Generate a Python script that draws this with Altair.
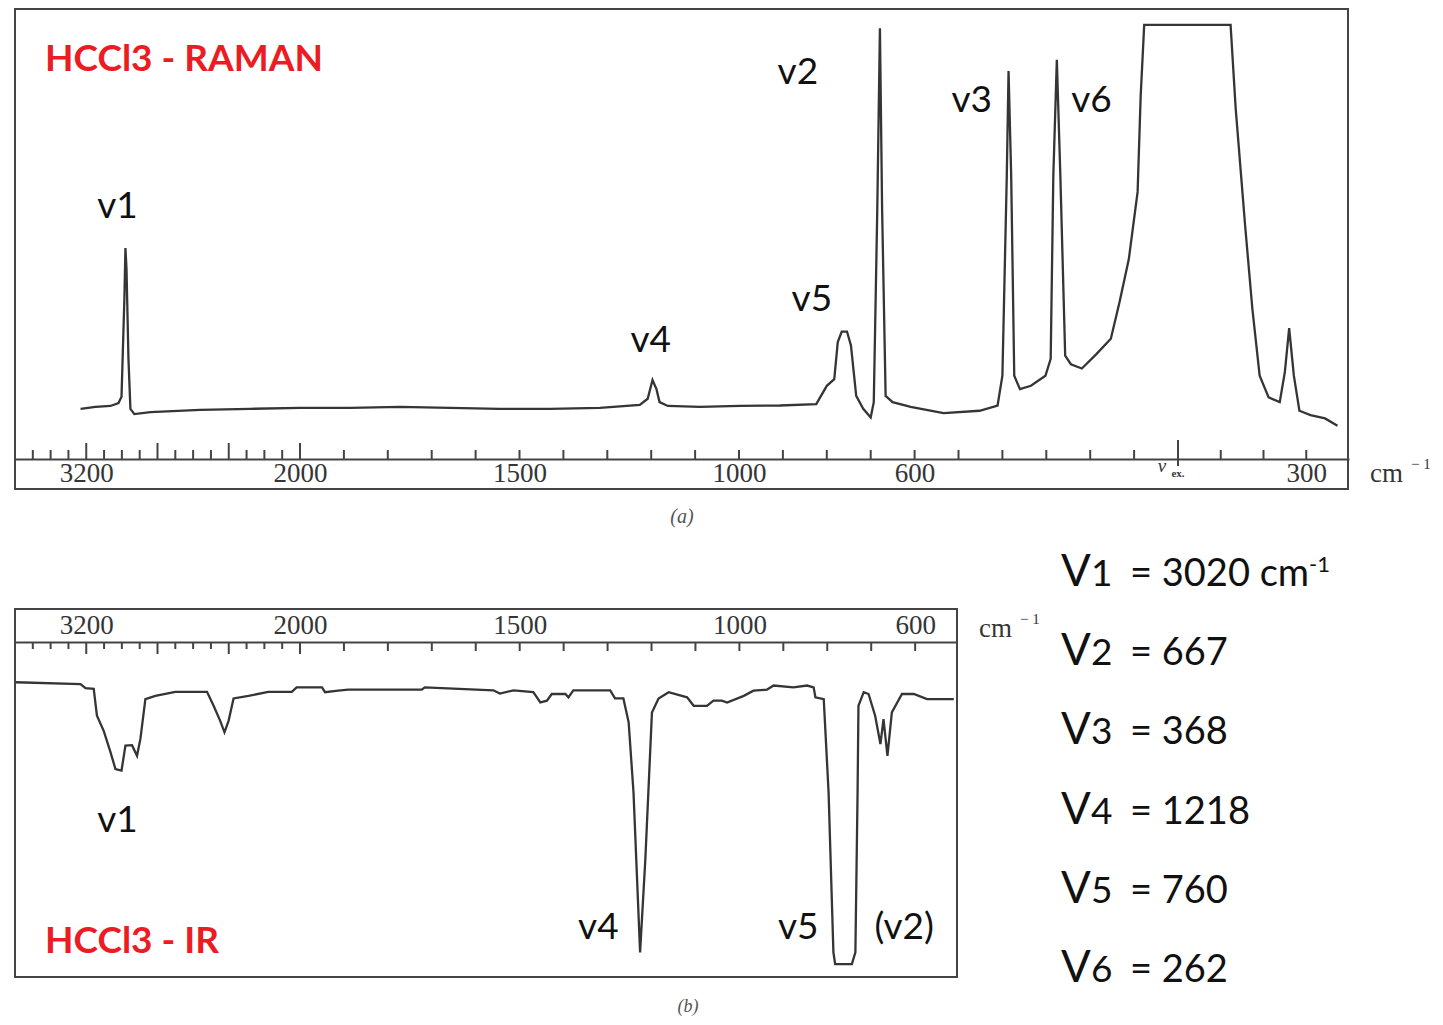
import altair as alt
import pandas as pd

# ---------------- data ----------------
# (a) Raman spectrum: Raman shift in cm-1 (negative = anti-Stokes side of the exciting line), intensity (arb. units)
raman_shift = [3232, 3148, 3064, 3019, 3002, 2986, 2980, 2974, 2963, 2952,
               2930, 2840, 2560, 2280, 2000, 1886, 1772, 1658, 1545, 1431,
               1317, 1226, 1208, 1197, 1188, 1181, 1162, 1089, 998, 907,
               824, 800, 783, 775, 766, 754, 745, 733, 717, 700,
               693, 685, 679, 674, 666, 650, 609, 534, 452, 411,
               400, 390, 386, 380, 373, 360, 335, 302, 290, 284,
               276, 268, 257, 244, 219, 186, 153, 133, 112, 92,
               85, 77, -123, -135, -157, -174, -191, -212, -238, -250,
               -260, -271, -284, -310, -344, -373]
raman_int = [16.7, 17.1, 17.3, 17.9, 19.2, 39.6, 50.2, 45.8, 27.1, 16.7,
             15.6, 16.0, 16.5, 16.7, 16.9, 16.9, 17.1, 16.9, 16.7, 16.7,
             16.9, 17.5, 18.8, 22.7, 20.8, 18.1, 17.3, 17.1, 17.3, 17.4,
             17.7, 21.5, 22.9, 30.6, 32.8, 32.8, 29.9, 19.4, 16.7, 14.9,
             18.1, 58.3, 96.0, 58.3, 19.4, 18.1, 17.1, 15.8, 16.3, 17.4,
             23.6, 65.3, 87.1, 65.3, 23.6, 20.8, 21.5, 23.6, 27.1, 65.3,
             89.4, 65.3, 27.8, 26.0, 25.1, 28.1, 31.3, 39.0, 47.9, 61.9,
             81.9, 96.7, 96.7, 79.2, 54.9, 37.5, 23.6, 19.1, 18.1, 24.4,
             33.5, 23.6, 16.3, 15.4, 14.7, 13.2]

# (b) IR spectrum: wavenumber in cm-1, transmittance (arb. %)
ir_wn = [3596, 3232, 3204, 3158, 3140, 3102, 3064, 3036, 3002, 2980,
         2943, 2915, 2896, 2868, 2812, 2700, 2522, 2485, 2448, 2424,
         2401, 2373, 2289, 2178, 2046, 2019, 1950, 1943, 1913, 1890,
         1723, 1716, 1560, 1545, 1514, 1469, 1453, 1438, 1427, 1396,
         1389, 1378, 1294, 1283, 1264, 1252, 1241, 1226, 1214, 1199,
         1184, 1161, 1119, 1104, 1074, 1059, 1040, 1028, 990, 968,
         937, 922, 877, 846, 831, 827, 808, 797, 786, 782,
         744, 736, 731, 729, 717, 706, 691, 679, 672, 663,
         653, 630, 603, 573, 512]
ir_T = [80.1, 79.6, 78.5, 78.3, 71.0, 66.9, 61.1, 56.5, 56.1, 62.9,
        63.0, 60.1, 64.7, 75.5, 76.4, 77.5, 77.5, 73.7, 69.6, 66.5,
        69.6, 75.7, 76.4, 77.5, 77.5, 78.7, 78.7, 77.4, 77.8, 78.1,
        78.1, 78.7, 77.9, 77.0, 77.9, 77.4, 74.6, 75.1, 76.9, 76.9,
        76.0, 77.9, 77.9, 75.7, 75.7, 69.2, 50.2, 6.7, 32.1, 71.9,
        75.7, 77.4, 76.0, 73.7, 73.7, 75.1, 75.1, 74.6, 76.4, 77.8,
        78.1, 79.2, 78.7, 79.2, 78.7, 76.0, 75.5, 50.2, 6.7, 3.5,
        3.5, 6.7, 50.2, 73.7, 77.4, 76.9, 71.0, 63.3, 70.1, 60.1,
        71.9, 76.9, 76.9, 75.5, 75.5]

# peak labels
raman_label_text = ["v1", "v4", "v5", "v2", "v3", "v6"]
raman_label_x = [3025, 1201, 834, 866, 470, 197]
raman_label_y = [58.8, 30.9, 39.4, 86.7, 80.9, 80.9]
ir_label_text = ["v1", "v4", "v5", "(v2)"]
ir_label_x = [3025, 1321, 866, 625]
ir_label_y = [42.4, 13.4, 13.4, 13.4]

# axis ticks / labels
major_ticks = [3200, 2800, 2400, 2000]
minor_ticks_high = [3500, 3400, 3300, 3100, 3000, 2900, 2700, 2600, 2500, 2300, 2200, 2100]
raman_ticks_low = [1900, 1800, 1700, 1600, 1500, 1400, 1300, 1200, 1100, 1000,
                   900, 800, 700, 600, 500, 400, 300, 200, 100, -100, -200, -300]
ir_ticks_low = [1900, 1800, 1700, 1600, 1500, 1400, 1300, 1200, 1100, 1000,
                900, 800, 700, 600]
raman_axis_labels = [3200, 2000, 1500, 1000, 600, -300]
ir_axis_labels = [3200, 2000, 1500, 1000, 600]

# fundamentals list
mode_num = ["1", "2", "3", "4", "5", "6"]
mode_val = ["= 3020 cm", "= 667", "= 368", "= 1218", "= 760", "= 262"]

# ---------------- styles ----------------
INK = "#353535"
SERIF = "Liberation Serif"
SANS = "Lato"
RED = "#ec1c24"

# ---------------- (a) Raman panel ----------------
top_scale = alt.Scale(domain=[3600, 2000, 0, -400], range=[0, 285, 1163, 1334], nice=False, zero=False)
top_axis = alt.Axis(values=raman_axis_labels, labelExpr="format(abs(datum.value), 'd')",
                    orient="bottom", offset=-30, ticks=False, tickSize=0,
                    domainColor="#444", domainWidth=2, grid=False, title=None,
                    labelFont=SERIF, labelFontSize=27, labelColor=INK,
                    labelBaseline="middle", labelPadding=14,
                    labelFlush=False, labelOverlap=False)
X_top = alt.X("wn:Q", scale=top_scale, axis=top_axis)
Y_top = alt.Y("I:Q", scale=alt.Scale(domain=[0, 100], nice=False, zero=False), axis=None)

raman_df = pd.DataFrame({"wn": raman_shift, "I": raman_int, "i": list(range(len(raman_shift)))})
line_top = alt.Chart(raman_df).mark_line(color=INK, strokeWidth=2.3).encode(x=X_top, y=Y_top, order="i:Q")

maj_top = alt.Chart(pd.DataFrame({"wn": major_ticks})).mark_rule(color="#444", strokeWidth=2).encode(
    x=X_top, y=alt.value(434), y2=alt.value(450))
min_top = alt.Chart(pd.DataFrame({"wn": minor_ticks_high + raman_ticks_low})).mark_rule(color="#444", strokeWidth=2).encode(
    x=X_top, y=alt.value(441), y2=alt.value(450))
vex_top = alt.Chart(pd.DataFrame({"wn": [0]})).mark_rule(color="#444", strokeWidth=2).encode(
    x=X_top, y=alt.value(431), y2=alt.value(457))

lab_top = alt.Chart(pd.DataFrame({"wn": raman_label_x, "I": raman_label_y, "t": raman_label_text})).mark_text(
    font=SANS, fontSize=37, color="#111", align="center", baseline="middle").encode(x=X_top, y=Y_top, text="t:N")

def txt(s, x, y, **kw):
    return alt.Chart(pd.DataFrame({"t": [s]})).mark_text(**kw).encode(x=alt.value(x), y=alt.value(y), text="t:N")

title_top = txt("HCCl3 - RAMAN", 30, 51, font=SANS, fontWeight="bold", fontSize=37, color=RED,
                align="left", baseline="middle")
cm_top = txt("cm", 1355, 465, font=SERIF, fontSize=27, color=INK, align="left", baseline="middle")
cm_sup_top = txt("\u2212 1", 1396, 455, font=SERIF, fontSize=15, color=INK, align="left", baseline="middle")
a_top = txt("(a)", 667, 508, font=SERIF, fontSize=20, fontStyle="italic", color="#555", align="center", baseline="middle")
vex_nu = txt("\u03bd", 1147, 457, font=SERIF, fontSize=19, fontStyle="italic", color=INK, align="center", baseline="middle")
vex_ex = txt("ex.", 1163, 465, font=SERIF, fontSize=11, fontWeight="bold", color=INK, align="center", baseline="middle")

top = alt.layer(line_top, maj_top, min_top, vex_top, lab_top, title_top, cm_top, cm_sup_top,
                a_top, vex_nu, vex_ex).properties(width=1333, height=480)

# ---------------- (b) IR panel ----------------
bot_scale = alt.Scale(domain=[3600, 2000, 507], range=[0, 285, 941], nice=False, zero=False)
bot_axis = alt.Axis(values=ir_axis_labels, format="d", orient="top", offset=-33, ticks=False, tickSize=0,
                    domainColor="#444", domainWidth=2, grid=False, title=None,
                    labelFont=SERIF, labelFontSize=27, labelColor=INK,
                    labelBaseline="middle", labelPadding=17,
                    labelFlush=False, labelOverlap=False)
X_bot = alt.X("wn:Q", scale=bot_scale, axis=bot_axis)
Y_bot = alt.Y("T:Q", scale=alt.Scale(domain=[0, 100], nice=False, zero=False), axis=None)

ir_df = pd.DataFrame({"wn": ir_wn, "T": ir_T, "i": list(range(len(ir_wn)))})
line_bot = alt.Chart(ir_df).mark_line(color=INK, strokeWidth=2.3).encode(x=X_bot, y=Y_bot, order="i:Q")

maj_bot = alt.Chart(pd.DataFrame({"wn": major_ticks})).mark_rule(color="#444", strokeWidth=2).encode(
    x=X_bot, y=alt.value(33), y2=alt.value(45))
min_bot = alt.Chart(pd.DataFrame({"wn": minor_ticks_high})).mark_rule(color="#444", strokeWidth=2).encode(
    x=X_bot, y=alt.value(33), y2=alt.value(40))
low_bot = alt.Chart(pd.DataFrame({"wn": ir_ticks_low})).mark_rule(color="#444", strokeWidth=2).encode(
    x=X_bot, y=alt.value(33), y2=alt.value(42))

lab_bot = alt.Chart(pd.DataFrame({"wn": ir_label_x, "T": ir_label_y, "t": ir_label_text})).mark_text(
    font=SANS, fontSize=37, color="#111", align="center", baseline="middle").encode(x=X_bot, y=Y_bot, text="t:N")

title_bot = txt("HCCl3 - IR", 30, 333, font=SANS, fontWeight="bold", fontSize=37, color=RED,
                align="left", baseline="middle")
cm_bot = txt("cm", 964, 20, font=SERIF, fontSize=27, color=INK, align="left", baseline="middle")
cm_sup_bot = txt("\u2212 1", 1005, 10, font=SERIF, fontSize=15, color=INK, align="left", baseline="middle")
b_bot = txt("(b)", 673, 398, font=SERIF, fontSize=18, fontStyle="italic", color="#555", align="center", baseline="middle")

list_df = pd.DataFrame({"row": list(range(6)), "sym": ["V"] * 6, "num": mode_num, "val": mode_val})
Y_list = alt.Y("row:Q", scale=alt.Scale(domain=[0, 5], range=[-23, 373], nice=False, zero=False), axis=None)
list_v = alt.Chart(list_df).mark_text(font=SANS, fontSize=44, color="#111", align="left", baseline="alphabetic").encode(
    x=alt.value(1046), y=Y_list, text="sym:N")
list_n = alt.Chart(list_df).mark_text(font=SANS, fontSize=37, color="#111", align="left", baseline="alphabetic").encode(
    x=alt.value(1076), y=Y_list, text="num:N")
list_val = alt.Chart(list_df).mark_text(font=SANS, fontSize=38, color="#111", align="left", baseline="alphabetic").encode(
    x=alt.value(1115), y=Y_list, text="val:N")
list_sup = alt.Chart(pd.DataFrame({"row": [0], "t": ["-1"]})).mark_text(
    font=SANS, fontSize=22, color="#111", align="left", baseline="alphabetic", dy=-14).encode(
    x=alt.value(1294), y=Y_list, text="t:N")

bottom = alt.layer(line_bot, maj_bot, min_bot, low_bot, lab_bot, title_bot, cm_bot, cm_sup_bot, b_bot,
                   list_v, list_n, list_val, list_sup).resolve_scale(y="independent").properties(width=942, height=368)

chart = alt.vconcat(top, bottom, spacing=120, bounds="flush").properties(
    padding={"left": 2, "top": 0, "right": 0, "bottom": 0}, background="white"
).configure_view(stroke="#444", strokeWidth=2)

chart.save("out.html", embed_options={"renderer": "svg", "actions": False})
